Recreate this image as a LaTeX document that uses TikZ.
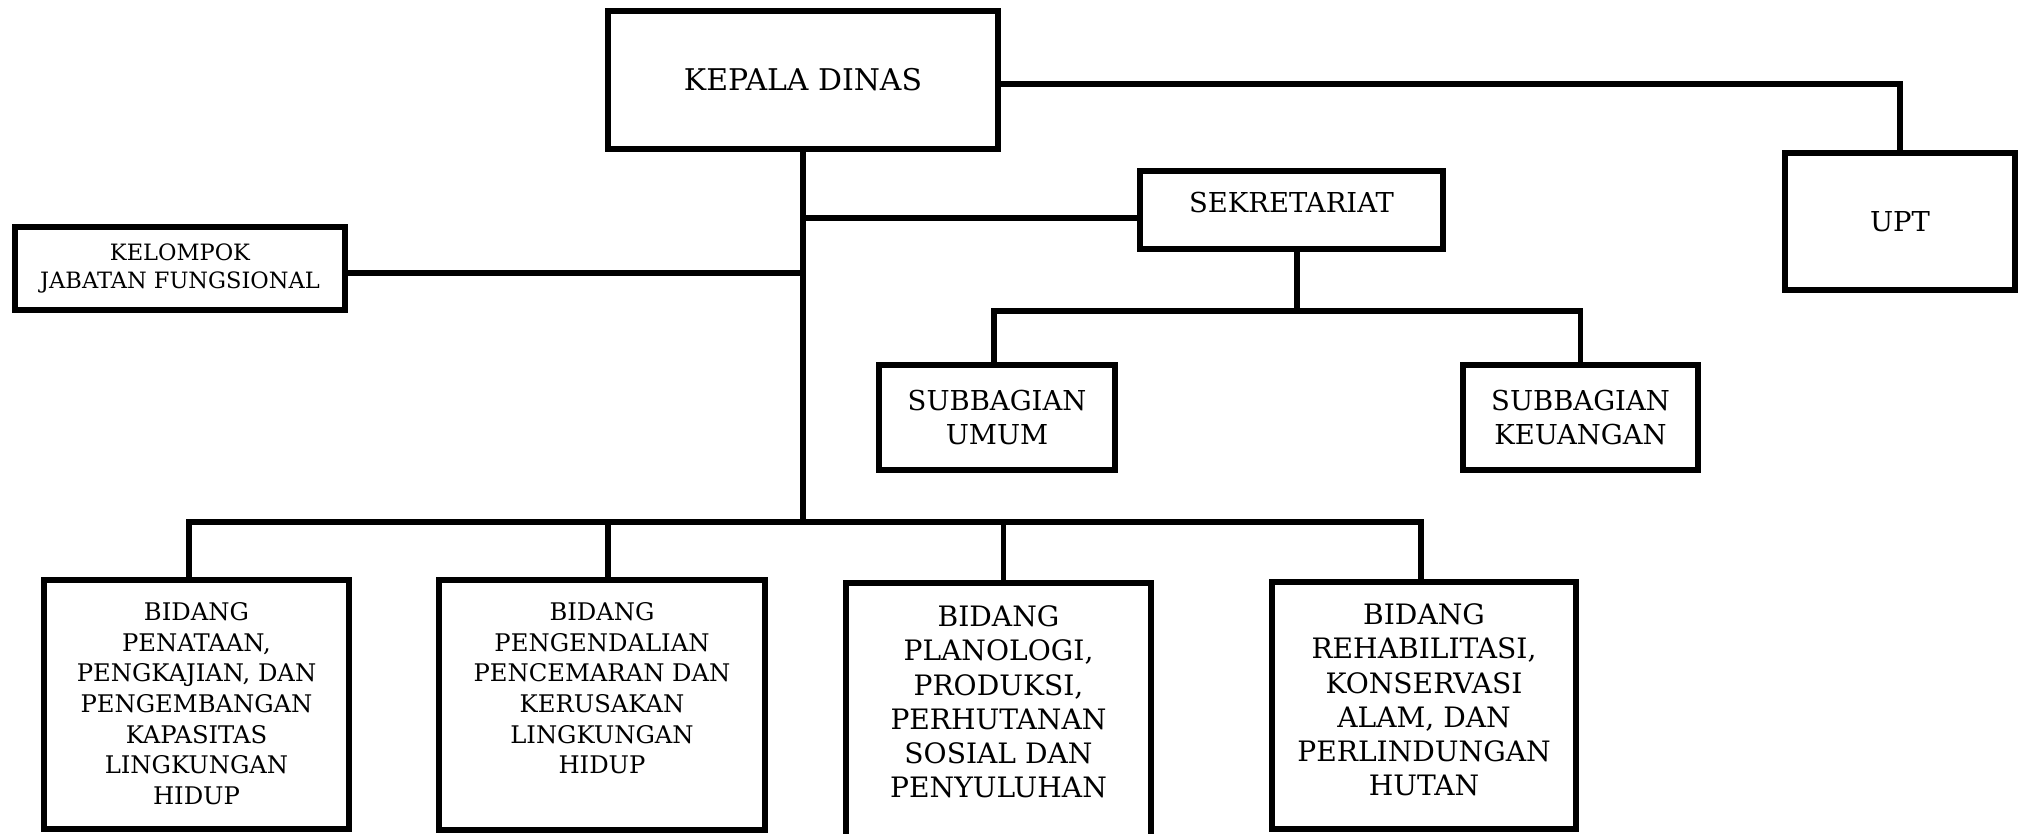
\documentclass[tikz,border=0pt]{standalone}
\usepackage{fontspec}
\setmainfont{DejaVu Serif}
\begin{document}
\begin{tikzpicture}[x=0.01cm, y=-0.01cm,
    unit/.style={draw, line width=1.7pt, inner sep=0pt, align=center},
    link/.style={line width=1.6pt},
    bidtext/.style={anchor=north, inner sep=0pt, align=center}]
  \useasboundingbox (0,0) rectangle (2025,834);

  % top level
  \node[unit, minimum width=3.90cm, minimum height=1.38cm, font=\fontsize{8.5}{10}\selectfont] (kepala) at (803,80) {KEPALA DINAS};
  \node[unit, minimum width=2.30cm, minimum height=1.37cm, font=\fontsize{7.8}{9.4}\selectfont] (upt) at (1900,221.5) {UPT};
  \node[unit, minimum width=3.03cm, minimum height=0.78cm, text depth=0.16cm, font=\fontsize{7.8}{9.4}\selectfont] (sek) at (1291.5,210) {SEKRETARIAT};
  \node[unit, minimum width=3.30cm, minimum height=0.83cm, font=\fontsize{6.4}{7.9}\selectfont] (kelompok) at (180,268.5) {KELOMPOK\\JABATAN FUNGSIONAL};

  % subbagian
  \node[unit, minimum width=2.36cm, minimum height=1.05cm, font=\fontsize{7.8}{9.4}\selectfont] (umum) at (997,417.5) {SUBBAGIAN\\UMUM};
  \node[unit, minimum width=2.35cm, minimum height=1.05cm, font=\fontsize{7.8}{9.4}\selectfont] (keuangan) at (1580.5,417.5) {SUBBAGIAN\\KEUANGAN};

  % bidang
  \node[unit, minimum width=3.04cm, minimum height=2.49cm] (b1) at (196.5,704.5) {};
  \node[unit, minimum width=3.25cm, minimum height=2.50cm] (b2) at (602,705) {};
  \node[unit, minimum width=3.05cm, minimum height=2.64cm] (b3) at (998.5,715) {};
  \node[unit, minimum width=3.04cm, minimum height=2.47cm] (b4) at (1424,705.5) {};

  \node[bidtext, font=\fontsize{6.9}{8.7}\selectfont] (b1txt) at ([yshift=-0.25cm]b1.north)
    {BIDANG\\PENATAAN,\\PENGKAJIAN, DAN\\PENGEMBANGAN\\KAPASITAS\\LINGKUNGAN\\HIDUP};
  \node[bidtext, font=\fontsize{6.9}{8.7}\selectfont] (b2txt) at ([yshift=-0.25cm]b2.north)
    {BIDANG\\PENGENDALIAN\\PENCEMARAN DAN\\KERUSAKAN\\LINGKUNGAN\\HIDUP};
  \node[bidtext, font=\fontsize{8.0}{9.75}\selectfont] (b3txt) at ([yshift=-0.25cm]b3.north)
    {BIDANG\\PLANOLOGI,\\PRODUKSI,\\PERHUTANAN\\SOSIAL DAN\\PENYULUHAN};
  \node[bidtext, font=\fontsize{8.0}{9.75}\selectfont] (b4txt) at ([yshift=-0.24cm]b4.north)
    {BIDANG\\REHABILITASI,\\KONSERVASI\\ALAM, DAN\\PERLINDUNGAN\\HUTAN};

  % junctions
  \coordinate (bar) at (803,522);
  \coordinate (jsek) at (803,218);
  \coordinate (sbar) at (1297,311);

  % connectors
  \draw[link] ([yshift=-0.04cm]kepala.east) -| (upt.north);
  \draw[link] (kepala.south) -- (bar);
  \draw[link] (jsek) -- (jsek -| sek.west);
  \draw[link] ([yshift=-0.045cm]kelompok.east) -- ([yshift=-0.045cm]kelompok.east -| bar);
  \draw[link] ([xshift=0.055cm]sek.south) -- ([xshift=0.055cm]sek.south |- sbar);
  \draw[link] ([xshift=-0.03cm]umum.north) -- ([xshift=-0.03cm]umum.north |- sbar) -- (keuangan.north |- sbar) -- (keuangan.north);
  \draw[link] ([xshift=-0.075cm]b1.north) -- ([xshift=-0.075cm]b1.north |- bar) -- ([xshift=-0.03cm]b4.north |- bar) -- ([xshift=-0.03cm]b4.north);
  \foreach \b/\s in {b2/0.06cm, b3/0.05cm}
    \draw[link] ([xshift=\s]\b.north) -- ([xshift=\s]\b.north |- bar);
\end{tikzpicture}
\end{document}
